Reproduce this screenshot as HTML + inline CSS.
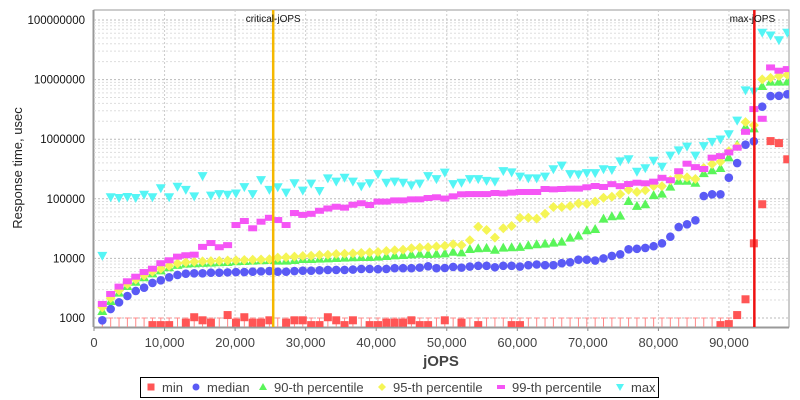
<!DOCTYPE html>
<html><head><meta charset="utf-8"><style>
body{margin:0;background:#fff;font-family:"Liberation Sans",sans-serif;}
#wrap{position:relative;width:800px;height:400px;overflow:hidden;}
svg text{font-family:"Liberation Sans",sans-serif;}
</style></head><body>
<div id="wrap">
<svg id="chart" width="800" height="400"></svg>
</div>
<script>
const jopsStart = 1180;
const jopsStep = 1184;
const xTicks = [0,10000,20000,30000,40000,50000,60000,70000,80000,90000];
const xTickLabels = ["0","10,000","20,000","30,000","40,000","50,000","60,000","70,000","80,000","90,000"];
const yTicks = [1000,10000,100000,1000000,10000000,100000000];
const yTickLabels = ["1000","10000","100000","1000000","10000000","100000000"];
const criticalJops = 25400;
const maxJops = 93600;
const minVals = [500,500,500,500,500,500,760,760,760,500,835,1030,915,835,500,1120,835,1030,835,835,915,
500,835,915,915,760,760,1030,915,760,915,500,760,760,835,835,835,915,760,760,500,915,
500,835,500,760,500,500,500,760,760,500,500,500,500,500,500,500,500,500,500,500,
500,500,500,500,500,500,500,500,500,500,500,500,760,790,1120,2060,17900,81000,930000,860000,460000];
const medianVals = [915,1415,1830,2340,2840,3230,3870,4290,4820,5270,5540,5620,5620,5760,5760,5830,5900,5900,5980,6060,6140,
5980,5980,6140,6230,6230,6320,6400,6400,6400,6490,6660,6660,6580,6660,6850,6850,6850,7000,7370,6850,6900,
7200,7000,7300,7500,7500,7100,7500,7500,7300,7700,7900,7700,7700,8300,8600,9500,9500,9200,10000,11000,
11700,14200,14500,15000,16000,17900,23100,33600,37300,43600,111000,119000,119000,226000,398000,809000,921000,3510000,5300000,5350000,5670000];
const p90Vals = [1310,1930,2660,3440,4060,4820,5620,6300,7100,7770,8170,8300,8400,8500,8600,8720,8950,9060,9170,9300,9420,
9170,9170,9420,9770,9770,9900,10030,10150,10300,10430,10570,10570,10700,10970,11250,11390,11680,11980,11830,11980,12160,
12950,12600,14400,14800,15000,14000,15170,15400,15600,16600,17300,17700,18400,19100,22300,24100,29700,31100,46400,50900,
52300,92000,76000,80900,115000,122000,160000,201000,201000,186000,269000,301000,329000,495000,807000,1620000,1520000,7800000,9250000,9250000,9300000];
const p95Vals = [1500,2150,2900,3700,4400,5200,6000,6700,7500,8200,8600,8800,8900,9000,9100,9200,9300,9400,9500,9600,9700,
10300,10430,10700,10970,11100,11390,11540,11830,11980,12160,12300,12600,12800,13300,13700,14000,14800,15170,15400,15800,16200,
17300,16700,20200,34000,30000,22300,32000,35000,48000,48000,46400,56000,72800,72800,75600,84000,82000,89700,104000,108000,
120000,142000,130000,139000,163000,163000,205000,240000,229000,215000,329000,383000,418000,628000,760000,1930000,1720000,10100000,10700000,11500000,12000000];
const p99Vals = [1720,2530,3360,4130,4930,5900,6720,8300,9300,10700,11300,11550,15600,18100,15400,16700,36300,42400,32000,41300,48000,
44000,36300,57700,53700,56000,63000,68800,73600,71000,79500,84200,78700,89700,89700,94000,94000,97800,98000,103000,106000,101000,
110000,119000,120000,120000,120000,125000,123000,127000,130000,130000,130000,146000,144000,146000,148000,148000,156000,164000,158000,176000,
163000,177000,186000,182000,194000,225000,205000,290000,388000,340000,316000,490000,520000,600000,721000,1330000,3200000,2200000,16000000,14100000,15000000];
const maxVals = [11000,106000,103000,107000,103000,117000,106000,150000,106000,159000,141000,110000,240000,113000,120000,117000,123000,157000,120000,206000,141000,
156000,127000,182000,137000,180000,135000,220000,194000,225000,194000,162000,182000,260000,186000,194000,186000,168000,180000,240000,214000,275000,
176000,186000,214000,214000,200000,194000,292000,278000,235000,220000,220000,235000,313000,360000,260000,256000,269000,269000,313000,304000,
425000,460000,285000,325000,435000,345000,530000,650000,750000,530000,765000,900000,990000,1210000,2050000,6600000,6270000,61000000,55000000,45800000,61000000];

const NS="http://www.w3.org/2000/svg";
const svg=document.getElementById('chart');
const L=94,R=789,T=10,B=327;
function X(v){return L+v*0.007055;}
function Y(v){return 318-59.6*Math.log10(v/1000);}
function mk(tag,attrs,parent){const e=document.createElementNS(NS,tag);for(const k in attrs)e.setAttribute(k,attrs[k]);(parent||svg).appendChild(e);return e;}

const bg=mk('rect',{x:L,y:T,width:R-L,height:B-T,fill:'#fff',stroke:'#999','stroke-width':1});


const grid=mk('g',{});


for(let d=1000;d<=100000000;d*=10){
  for(let m=1;m<=9;m++){
    const v=d*m; if(v>150000000) break;
    const y=Y(v); if(y<T) continue;
    mk('line',{x1:L,x2:R,y1:y,y2:y,stroke:m===1?'#bbb':'#ddd','stroke-width':1,'stroke-dasharray':'2,2'},grid);
  }
}
xTicks.forEach((v,i)=>{
  if(i>0) mk('line',{x1:X(v),x2:X(v),y1:T,y2:B,stroke:'#ccc','stroke-width':1,'stroke-dasharray':'2,2'},grid);
  const t=mk('text',{x:X(v),y:347,'font-size':13,'text-anchor':'middle',fill:'#444'});
  t.textContent=xTickLabels[i];
  
  
  mk('line',{x1:X(v),x2:X(v),y1:B,y2:B+4,stroke:'#888'});
});
yTicks.forEach((v,i)=>{
  const t=mk('text',{x:85,y:Y(v)+4,'font-size':11.5,'text-anchor':'end',fill:'#111'});
  t.textContent=yTickLabels[i];
  
  
});
mk('line',{x1:L,x2:R,y1:B+1,y2:B+1,stroke:'#999'});
mk('line',{x1:L-1,x2:L-1,y1:T,y2:B,stroke:'#999'});

const clip=mk('clipPath',{id:'pc'});
mk('rect',{x:L,y:T,width:R-L,height:B-T},clip);
const plot=mk('g',{'clip-path':'url(#pc)'});



function xs(i){return X(jopsStart+jopsStep*i);}
minVals.forEach((v,i)=>{
  if(v<1200 && i<=75){
    const x=xs(i);
    mk('line',{x1:x,x2:x,y1:Y(1000),y2:B,stroke:'#ff8888','stroke-width':1},plot);
    mk('line',{x1:x-2.5,x2:x+2.5,y1:Y(1000),y2:Y(1000),stroke:'#ff8888','stroke-width':1},plot);
  }
});
function series(vals,name,color,shape){
  const g=mk('g',{},plot);
  
  
  vals.forEach((v,i)=>{
    const x=xs(i),y=Y(v);let e;
    if(shape==='sq') e=mk('rect',{x:x-4,y:y-4,width:8,height:8,fill:color},g);
    else if(shape==='ci') e=mk('circle',{cx:x,cy:y,r:4.3,fill:color},g);
    else if(shape==='up') e=mk('polygon',{points:`${x},${y-5} ${x+5},${y+4} ${x-5},${y+4}`,fill:color},g);
    else if(shape==='di') e=mk('polygon',{points:`${x},${y-5} ${x+5},${y} ${x},${y+5} ${x-5},${y}`,fill:color},g);
    else if(shape==='re') e=mk('rect',{x:x-4.5,y:y-3,width:9,height:6,fill:color},g);
    else e=mk('polygon',{points:`${x-5},${y-4} ${x+5},${y-4} ${x},${y+5}`,fill:color},g);
    
    
  });
}
series(minVals,'min-series','#f55','sq');
series(medianVals,'median-series','#5a5af5','ci');
series(p90Vals,'p90-series','#5af55a','up');
series(p95Vals,'p95-series','#f5f555','di');
series(p99Vals,'p99-series','#f555f5','re');
series(maxVals,'max-series','#55f5f5','dn');

const cl=mk('line',{x1:X(criticalJops),x2:X(criticalJops),y1:T,y2:B,stroke:'#f5b800','stroke-width':2.5});


const ml=mk('line',{x1:X(maxJops),x2:X(maxJops),y1:T,y2:B,stroke:'#ee1111','stroke-width':2.5});


const ct=mk('text',{x:X(criticalJops),y:22,'font-size':10,'text-anchor':'middle',fill:'#111'});
ct.textContent='critical-jOPS';


const mt=mk('text',{x:X(maxJops)-2,y:22,'font-size':10,'text-anchor':'middle',fill:'#111'});
mt.textContent='max-jOPS';



const xt=mk('text',{x:441,y:366,'font-size':15,'font-weight':'bold','text-anchor':'middle',fill:'#444'});
xt.textContent='jOPS';


const yt=mk('text',{x:0,y:0,'font-size':13,'text-anchor':'middle',fill:'#222',transform:'translate(22,168) rotate(-90)'});
yt.textContent='Response time, usec';



const lg=mk('g',{});


mk('rect',{x:140.5,y:377.5,width:518,height:20,fill:'#fff',stroke:'#000','stroke-width':1},lg);
const legendItems=[
 ['min',151,162,'sq','#f55'],['median',196,207,'ci','#5a5af5'],['90-th percentile',263,274,'up','#5af55a'],
 ['95-th percentile',382,393,'di','#f5f555'],['99-th percentile',501,512,'re','#f555f5'],['max',620,631,'dn','#55f5f5']];
legendItems.forEach(it=>{
  const g=mk('g',{},lg);
  
  
  const x=it[1],y=387;
  if(it[3]==='sq') mk('rect',{x:x-3.5,y:y-3.5,width:7,height:7,fill:it[4]},g);
  else if(it[3]==='ci') mk('circle',{cx:x,cy:y,r:3.5,fill:it[4]},g);
  else if(it[3]==='up') mk('polygon',{points:`${x},${y-4} ${x+4},${y+3} ${x-4},${y+3}`,fill:it[4]},g);
  else if(it[3]==='di') mk('polygon',{points:`${x},${y-4} ${x+4},${y} ${x},${y+4} ${x-4},${y}`,fill:it[4]},g);
  else if(it[3]==='re') mk('rect',{x:x-4,y:y-2,width:8,height:4,fill:it[4]},g);
  else mk('polygon',{points:`${x-4},${y-3} ${x+4},${y-3} ${x},${y+4}`,fill:it[4]},g);
  const t=mk('text',{x:it[2],y:392,'font-size':13,fill:'#444'},g);
  t.textContent=it[0];
});
</script>
</body></html>
